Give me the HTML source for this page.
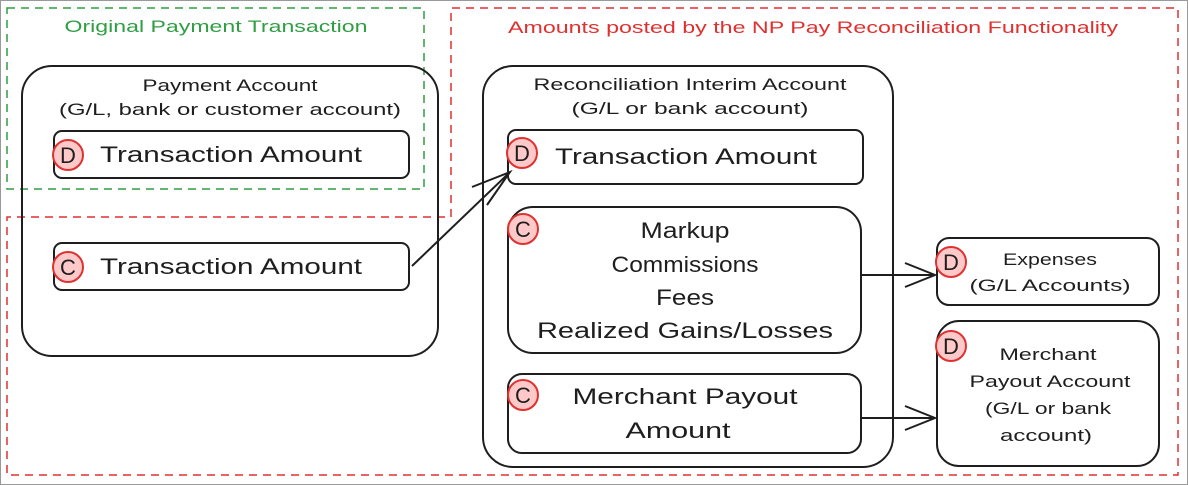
<!DOCTYPE html>
<html><head><style>
html,body{margin:0;padding:0;background:#fff;}
svg{display:block;}
text{font-family:"Liberation Sans",sans-serif;fill:#1e1e1e;}
</style></head><body>
<svg width="1188" height="485" viewBox="0 0 1188 485" xmlns="http://www.w3.org/2000/svg">
<rect x="0.5" y="0.5" width="1187" height="484" fill="#fff" stroke="#999" stroke-width="1"/>
<rect x="7" y="8" width="417" height="181" fill="none" stroke="#2f9e44" stroke-width="1.5" stroke-dasharray="8,6"/>
<path d="M451 217 L451 8 L1178 8 L1178 475 L7 475 L7 217 Z" fill="none" stroke="#e03131" stroke-width="1.5" stroke-dasharray="8,6"/>
<text x="216" y="32" text-anchor="middle" font-size="17" textLength="303" lengthAdjust="spacingAndGlyphs" style="fill:#2f9e44">Original Payment Transaction</text>
<text x="813" y="33" text-anchor="middle" font-size="17" textLength="610" lengthAdjust="spacingAndGlyphs" style="fill:#e03131">Amounts posted by the NP Pay Reconciliation Functionality</text>
<g fill="none" stroke="#1e1e1e" stroke-width="2">
<rect x="22" y="66" width="416" height="290" rx="30"/>
<rect x="54" y="131" width="355" height="47" rx="8"/>
<rect x="54" y="243" width="355" height="47" rx="8"/>
<rect x="483" y="66" width="410" height="401" rx="30"/>
<rect x="508" y="130" width="355" height="54" rx="8"/>
<rect x="508" y="207" width="353" height="146" rx="25"/>
<rect x="508" y="374" width="353" height="79" rx="14"/>
<rect x="937" y="238" width="222" height="67" rx="12"/>
<rect x="937" y="321" width="222" height="145" rx="22"/>
<path d="M412 266 L510 172 M472 187 L510 172 L487 205"/>
<path d="M861 275 L935 275 M905 263 L935 275 L905 287"/>
<path d="M861 418 L935 418 M905 406 L935 418 L905 430"/>
</g>
<g font-size="17" text-anchor="middle" lengthAdjust="spacingAndGlyphs">
<text x="230" y="91" textLength="175" lengthAdjust="spacingAndGlyphs">Payment Account</text>
<text x="230" y="115" textLength="342" lengthAdjust="spacingAndGlyphs">(G/L, bank or customer account)</text>
<text x="690" y="90" textLength="313" lengthAdjust="spacingAndGlyphs">Reconciliation Interim Account</text>
<text x="690" y="114" textLength="237" lengthAdjust="spacingAndGlyphs">(G/L or bank account)</text>
<text x="1050" y="265" textLength="94" lengthAdjust="spacingAndGlyphs">Expenses</text>
<text x="1050" y="291" textLength="161" lengthAdjust="spacingAndGlyphs">(G/L Accounts)</text>
<text x="1048" y="360" textLength="97" lengthAdjust="spacingAndGlyphs">Merchant</text>
<text x="1050" y="387" textLength="161" lengthAdjust="spacingAndGlyphs">Payout Account</text>
<text x="1048" y="414" textLength="126" lengthAdjust="spacingAndGlyphs">(G/L or bank</text>
<text x="1046" y="441" textLength="92" lengthAdjust="spacingAndGlyphs">account)</text>
</g>
<g font-size="22" text-anchor="middle">
<text x="231" y="162" textLength="262" lengthAdjust="spacingAndGlyphs">Transaction Amount</text>
<text x="231" y="274" textLength="262" lengthAdjust="spacingAndGlyphs">Transaction Amount</text>
<text x="686" y="164" textLength="262" lengthAdjust="spacingAndGlyphs">Transaction Amount</text>
<text x="685" y="238" textLength="89" lengthAdjust="spacingAndGlyphs">Markup</text>
<text x="685" y="272" textLength="147" lengthAdjust="spacingAndGlyphs">Commissions</text>
<text x="685" y="305" textLength="58" lengthAdjust="spacingAndGlyphs">Fees</text>
<text x="685" y="338" textLength="296" lengthAdjust="spacingAndGlyphs">Realized Gains/Losses</text>
<text x="685" y="404" textLength="225" lengthAdjust="spacingAndGlyphs">Merchant Payout</text>
<text x="678" y="438" textLength="105" lengthAdjust="spacingAndGlyphs">Amount</text>
</g>
<g fill="#ffc9c9" stroke="#e03131" stroke-width="2">
<circle cx="68" cy="155" r="15"/><circle cx="68" cy="267" r="15"/>
<circle cx="522" cy="153" r="15"/><circle cx="523" cy="229" r="15"/>
<circle cx="523" cy="395" r="15"/><circle cx="951" cy="262" r="15"/>
<circle cx="951" cy="346" r="15"/>
</g>
<g font-size="22" text-anchor="middle">
<text x="68" y="163">D</text><text x="68" y="275">C</text>
<text x="522" y="161">D</text><text x="523" y="237">C</text>
<text x="523" y="403">C</text><text x="951" y="270">D</text>
<text x="951" y="354">D</text>
</g>
</svg>
</body></html>
